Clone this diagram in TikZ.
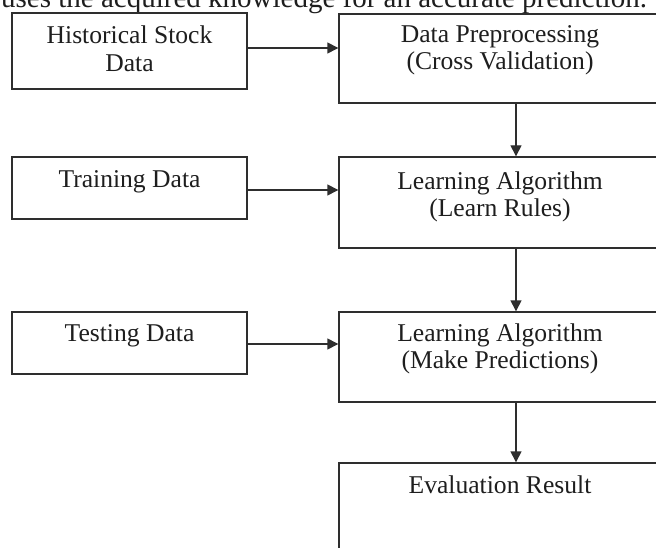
\documentclass[tikz,border=0pt]{standalone}
\usepackage{fontspec}
\setmainfont{Liberation Serif}
\usetikzlibrary{arrows.meta}
\definecolor{ink}{HTML}{1E1E1E}
\definecolor{edge}{HTML}{2E2E2E}
\begin{document}
\begin{tikzpicture}[x=1pt,y=-1pt,
  box/.style={draw=edge, line width=1.4pt, rectangle, inner sep=0pt},
  lbl/.style={text=ink, font=\fontsize{25.6}{27.5}\selectfont, inner sep=0pt, align=center},
  flow/.style={draw=edge, line width=1.4pt, -{Triangle[length=11pt,width=11pt]}}]
\useasboundingbox (0,0) rectangle (656,548);
\clip (0,0) rectangle (656,548);
\fill[white] (0,0) rectangle (656,548);

% tail of the running text above the figure
\node[anchor=base west, inner sep=0pt, text=ink, font=\fontsize{29}{33}\selectfont] (intro) at (1,7.5)
  {uses the acquired knowledge for an accurate prediction.};

% input boxes (left column)
\node[box, minimum width=235pt, minimum height=76pt] (hsd) at (129.5,51) {};
\node[box, minimum width=235pt, minimum height=62pt] (train) at (129.5,188) {};
\node[box, minimum width=235pt, minimum height=62pt] (test) at (129.5,343) {};

% processing boxes (right column)
\node[box, minimum width=322pt, minimum height=89pt] (prep) at (500,58.5) {};
\node[box, minimum width=322pt, minimum height=91pt] (learn) at (500,202.5) {};
\node[box, minimum width=322pt, minimum height=90pt] (predict) at (500,357) {};
\node[box, minimum width=322pt, minimum height=110pt] (eval) at (500,518) {};

% box captions
\node[lbl, anchor=north] (hsdt) at (129.5,26) {Historical Stock\\Data};
\node[lbl, anchor=base] (traint) at (129.5,188) {Training Data};
\node[lbl, anchor=base] (testt) at (129.5,341) {Testing Data};
\node[lbl, anchor=north] (prept) at (500,25) {Data Preprocessing\\(Cross Validation)};
\node[lbl, anchor=north] (learnt) at (500,171.5) {Learning Algorithm\\(Learn Rules)};
\node[lbl, anchor=north] (predictt) at (500,323.5) {Learning Algorithm\\(Make Predictions)};
\node[lbl, anchor=base] (evalt) at (500,493.5) {Evaluation Result};

% column of the downward arrows
\coordinate (spine) at (516,0);

% connectors
\draw[flow] ([yshift=3pt]hsd.east) -- ([yshift=3pt]hsd.east -| prep.west);
\draw[flow] ([yshift=-2pt]train.east) -- ([yshift=-2pt]train.east -| learn.west);
\draw[flow] ([yshift=-1pt]test.east) -- ([yshift=-1pt]test.east -| predict.west);
\draw[flow] (prep.south -| spine) -- (learn.north -| spine);
\draw[flow] (learn.south -| spine) -- (predict.north -| spine);
\draw[flow] (predict.south -| spine) -- (eval.north -| spine);
\end{tikzpicture}
\end{document}
